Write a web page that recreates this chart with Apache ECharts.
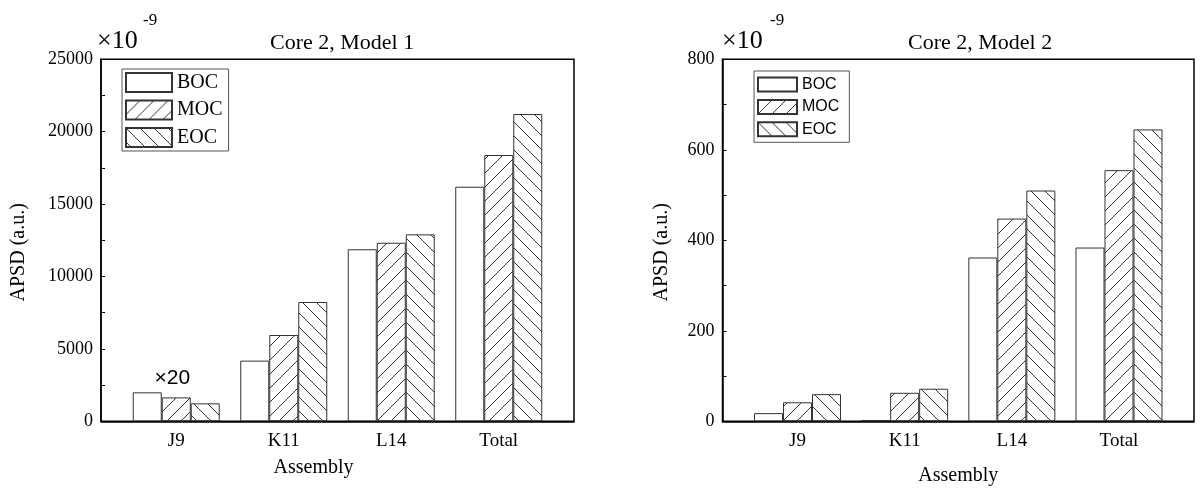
<!DOCTYPE html>
<html><head><meta charset="utf-8">
<script src="https://cdn.jsdelivr.net/npm/echarts@6/dist/echarts.min.js"></script>
<style>html,body{margin:0;padding:0;background:#fff}#c{width:1202px;height:488px}</style>
</head><body><div id="c"></div>
<script>
// ---- data ----
const categories = ['J9', 'K11', 'L14', 'Total'];
const seriesNames = ['BOC', 'MOC', 'EOC'];
const model1BOC = [2000, 4190, 11880, 16200];
const model1MOC = [1650, 5960, 12330, 18390];
const model1EOC = [1240, 8240, 12910, 21220];
const model2BOC = [18, 3, 362, 384];
const model2MOC = [42, 63, 448, 555];
const model2EOC = [60, 72, 510, 645];
const model1YTicks = [0, 5000, 10000, 15000, 20000, 25000];
const model2YTicks = [0, 200, 400, 600, 800];
const titles = ['Core 2, Model 1', 'Core 2, Model 2'];
const j9Note = '×20';

// ---- styling helpers ----
const SERIF = 'Liberation Serif';
const SANS = 'Liberation Sans';
function hatch(dir) {
  const s = 14, c = document.createElement('canvas');
  c.width = s; c.height = s;
  const g = c.getContext('2d');
  g.strokeStyle = '#333'; g.lineWidth = 1; g.beginPath();
  for (const o of [-s, 0, s]) {
    if (dir > 0) { g.moveTo(o, s); g.lineTo(o + s, 0); }
    else { g.moveTo(o, 0); g.lineTo(o + s, s); }
  }
  g.stroke();
  return c;
}
const fills = ['#ffffff', { image: hatch(1), repeat: 'repeat' }, { image: hatch(-1), repeat: 'repeat' }];

function bars(name, vals, gi, fill, extra) {
  return Object.assign({
    type: 'bar', name, xAxisIndex: gi, yAxisIndex: gi,
    barWidth: 29, barGap: '0%',
    data: vals.map((v, i) => [i + 1, v]),
    itemStyle: { color: fill, borderColor: '#333', borderWidth: 1 },
    emphasis: { disabled: true }, silent: true
  }, extra || {});
}

function xAx(gi, nameGap, padRight, margin) {
  return {
    type: 'value', gridIndex: gi, min: 0.3, max: 4.7,
    splitLine: { show: false }, axisTick: { show: false },
    axisLine: { onZero: false, lineStyle: { color: '#000', width: 1.5 } },
    axisLabel: {
      customValues: [1, 2, 3, 4],
      formatter: v => { const r = Math.round(v); return Math.abs(v - r) < 1e-6 && categories[r - 1] ? categories[r - 1] : ''; },
      fontFamily: SERIF, fontSize: 19, color: '#000', margin
    },
    name: 'Assembly', nameLocation: 'middle', nameGap,
    nameTextStyle: { fontFamily: SERIF, fontSize: 20, color: '#000', padding: [0, padRight, 0, 0] }
  };
}
function yAx(gi, ticks, nameGap) {
  const step = ticks[1] - ticks[0];
  return {
    type: 'value', gridIndex: gi, min: ticks[0], max: ticks[ticks.length - 1],
    interval: step / 2,
    splitLine: { show: false },
    axisLine: { show: true, lineStyle: { color: '#000', width: 1.5 } },
    axisTick: { show: true, inside: true, length: 4, lineStyle: { color: '#000' } },
    axisLabel: {
      fontFamily: SERIF, fontSize: 18, color: '#000', margin: 8,
      formatter: v => (ticks.indexOf(v) >= 0 ? String(v) : '')
    },
    name: 'APSD (a.u.)', nameLocation: 'middle', nameGap,
    nameTextStyle: { fontFamily: SERIF, fontSize: 20, color: '#000', padding: [0, 24, 0, 0] }
  };
}
function legend(left, top, pad, w, h, gap, font, size) {
  return {
    left, top, orient: 'vertical', padding: pad, itemWidth: w, itemHeight: h, itemGap: gap,
    borderColor: '#555', borderWidth: 1, icon: 'rect', selectedMode: false,
    data: seriesNames, textStyle: { fontFamily: font, fontSize: size, color: '#000' }
  };
}
function txt(text, left, top, family, size) {
  return { text, left, top, padding: 0, textStyle: { fontFamily: family, fontSize: size, fontWeight: 'normal', color: '#000' } };
}

const chart = echarts.init(document.getElementById('c'), null, { renderer: 'canvas' });
chart.setOption({
  animation: false,
  backgroundColor: '#fff',
  title: [
    txt(titles[0], 270, 32, SERIF, 22),
    txt(titles[1], 908, 32, SERIF, 22),
    txt('×10', 97, 28, SERIF, 26),
    txt('-9', 143, 12, SERIF, 17),
    txt('×10', 722, 28, SERIF, 26),
    txt('-9', 770, 12, SERIF, 17)
  ],
  legend: [
    legend(122, 69, [3, 6, 3, 3], 46, 19, 6.5, SERIF, 20),
    legend(754, 71, [5.5, 10, 5, 3], 39, 14, 6.4, SANS, 16)
  ],
  grid: [
    { left: 101, top: 59.3, width: 473, height: 362, show: true, borderColor: '#000', borderWidth: 1.5, outerBoundsMode: 'none', containLabel: false },
    { left: 722.5, top: 59.3, width: 471.5, height: 362, show: true, borderColor: '#000', borderWidth: 1.5, outerBoundsMode: 'none', containLabel: false }
  ],
  xAxis: [xAx(0, 36, 48, 10), xAx(1, 44, 0, 10)],
  yAxis: [yAx(0, model1YTicks, 72), yAx(1, model2YTicks, 51)],
  series: [
    bars(seriesNames[0], model1BOC, 0, fills[0]),
    bars(seriesNames[1], model1MOC, 0, fills[1], {
      markPoint: {
        symbol: 'circle', symbolSize: 0, silent: true,
        data: [{ coord: [1, model1MOC[0]] }],
        label: { show: true, position: 'inside', formatter: j9Note, offset: [-4, -19], fontFamily: SANS, fontSize: 21, color: '#000' }
      }
    }),
    bars(seriesNames[2], model1EOC, 0, fills[2]),
    bars(seriesNames[0], model2BOC, 1, fills[0]),
    bars(seriesNames[1], model2MOC, 1, fills[1]),
    bars(seriesNames[2], model2EOC, 1, fills[2])
  ]
});
</script></body></html>
